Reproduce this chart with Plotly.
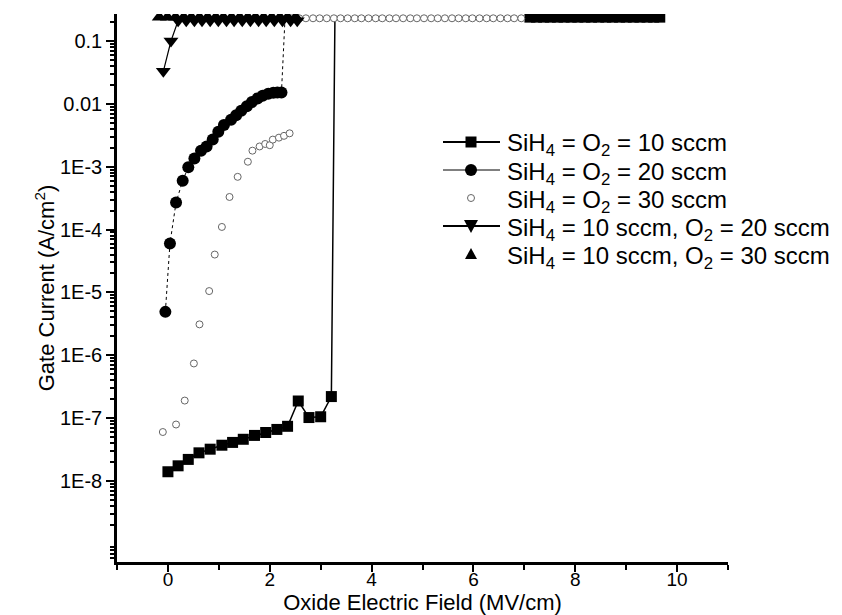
import plotly.graph_objects as go

# ---- data ----
sq_x = [0.0, 0.2, 0.4, 0.61, 0.83, 1.06, 1.27, 1.48, 1.70, 1.92, 2.14, 2.35, 2.56, 2.77, 3.0, 3.21, 3.28,
        7.11, 7.24, 7.38, 7.51, 7.65, 7.78, 7.92, 8.05, 8.19, 8.32, 8.46, 8.60, 8.73, 8.87, 9.00, 9.14, 9.27, 9.41, 9.54, 9.66]
sq_y = [1.4e-8, 1.74e-8, 2.2e-8, 2.8e-8, 3.2e-8, 3.7e-8, 4.1e-8, 4.6e-8, 5.3e-8, 5.9e-8, 6.6e-8, 7.4e-8, 1.87e-7, 1.02e-7, 1.05e-7, 2.2e-7, 0.23,
        0.24, 0.24, 0.24, 0.24, 0.24, 0.24, 0.24, 0.24, 0.24, 0.24, 0.24, 0.24, 0.24, 0.24, 0.24, 0.24, 0.24, 0.24, 0.24, 0.24]
sq_hidden = [16]

ci_x = [-0.05, 0.04, 0.16, 0.29, 0.40, 0.52, 0.65, 0.76, 0.88, 0.99, 1.10, 1.24, 1.34, 1.44, 1.55, 1.65, 1.76, 1.86, 1.97,
        2.07, 2.15, 2.23, 2.30]
ci_y = [4.9e-6, 6.0e-5, 2.7e-4, 6.0e-4, 9.8e-4, 1.35e-3, 1.8e-3, 2.1e-3, 2.7e-3, 3.6e-3, 4.6e-3, 5.6e-3, 6.6e-3, 7.8e-3,
        9.2e-3, 1.07e-2, 1.22e-2, 1.35e-2, 1.45e-2, 1.5e-2, 1.52e-2, 1.52e-2, 0.23]
ci_hidden = [22]

s30_x = [-0.10, 0.16, 0.33, 0.51, 0.62, 0.81, 0.92, 1.06, 1.21, 1.37, 1.57, 1.66, 1.80, 1.91, 2.0, 2.06, 2.18, 2.28, 2.39,
         2.44, 2.58, 2.71, 2.85, 2.98, 3.12, 3.26, 3.39, 3.53, 3.67, 3.80, 3.94, 4.08, 4.21, 4.35, 4.48, 4.62, 4.76,
         4.89, 5.03, 5.17, 5.30, 5.44, 5.58, 5.71, 5.85, 5.98, 6.12, 6.26, 6.39, 6.53, 6.67, 6.80, 6.94]
s30_y = [6e-8, 7.9e-8, 1.9e-7, 7.4e-7, 3.1e-6, 1.05e-5, 4e-5, 1.1e-4, 3.3e-4, 6.9e-4, 1.2e-3, 1.8e-3, 2.1e-3, 2.3e-3,
         2.2e-3, 2.7e-3, 2.9e-3, 3.1e-3, 3.4e-3,
         0.23, 0.23, 0.23, 0.23, 0.23, 0.23, 0.23, 0.23, 0.23, 0.23, 0.23, 0.23, 0.23, 0.23, 0.23, 0.23, 0.23, 0.23,
         0.23, 0.23, 0.23, 0.23, 0.23, 0.23, 0.23, 0.23, 0.23, 0.23, 0.23, 0.23, 0.23, 0.23, 0.23, 0.23]

dn_x = [-0.09, 0.06, 0.20, 0.36, 0.52, 0.67, 0.83, 0.99, 1.15, 1.30, 1.46, 1.62, 1.78, 1.93, 2.09, 2.25, 2.41, 2.54]
dn_y = [0.033, 0.1, 0.21, 0.21, 0.21, 0.21, 0.21, 0.21, 0.21, 0.21, 0.21, 0.21, 0.21, 0.21, 0.21, 0.21, 0.21, 0.21]

up_x = [-0.17, -0.01, 0.15, 0.31, 0.46, 0.62, 0.78, 0.94, 1.09, 1.25, 1.41, 1.57, 1.72, 1.88, 2.04, 2.20, 2.35, 2.51]
up_y = [0.24, 0.24, 0.24, 0.24, 0.24, 0.24, 0.24, 0.24, 0.24, 0.24, 0.24, 0.24, 0.24, 0.24, 0.24, 0.24, 0.24, 0.24]

names = ["SiH<sub>4</sub> = O<sub>2</sub> = 10 sccm",
         "SiH<sub>4</sub> = O<sub>2</sub> = 20 sccm",
         "SiH<sub>4</sub> = O<sub>2</sub> = 30 sccm",
         "SiH<sub>4</sub> = 10 sccm, O<sub>2</sub> = 20 sccm",
         "SiH<sub>4</sub> = 10 sccm, O<sub>2</sub> = 30 sccm"]

y_tickvals = [1e-8, 1e-7, 1e-6, 1e-5, 1e-4, 1e-3, 0.01, 0.1]
y_ticktext = ["1E-8", "1E-7", "1E-6", "1E-5", "1E-4", "1E-3", "0.01", "0.1"]
x_tickvals = [0, 2, 4, 6, 8, 10]

FONT = "Liberation Sans, Arial, sans-serif"

# ---- geometry ----
W, H = 842, 615
ML, MR, MT, MB = 117, 114, 14, 53


def px(x):
    return (x - ML) / (W - ML - MR)


def py(y):
    return 1 - (y - MT) / (H - MT - MB)


def sizes(n, base, hidden):
    return [0 if i in hidden else base for i in range(n)]


fig = go.Figure()
fig.add_trace(go.Scatter(x=sq_x, y=sq_y, mode="lines+markers", name=names[0],
                         line=dict(color="black", width=1.5),
                         marker=dict(symbol="square", color="black", opacity=1, line=dict(width=0),
                                     size=sizes(len(sq_x), 11, sq_hidden))))
fig.add_trace(go.Scatter(x=ci_x, y=ci_y, mode="lines+markers", name=names[1],
                         line=dict(color="black", width=1, dash="dot"),
                         marker=dict(symbol="circle", color="black", opacity=1, line=dict(width=0),
                                     size=sizes(len(ci_x), 12, ci_hidden))))
fig.add_trace(go.Scatter(x=s30_x, y=s30_y, mode="markers", name=names[2],
                         marker=dict(symbol="circle", color="white", size=7, opacity=1,
                                     line=dict(color="#666666", width=1))))
fig.add_trace(go.Scatter(x=dn_x, y=dn_y, mode="lines+markers", name=names[3],
                         line=dict(color="black", width=1.2),
                         marker=dict(symbol="triangle-down", color="black", size=13, line=dict(width=0))))
fig.add_trace(go.Scatter(x=up_x, y=up_y, mode="markers", name=names[4],
                         marker=dict(symbol="triangle-up", color="black", size=13, line=dict(width=0))))

# ---- legend drawn as shapes + text annotations ----
leg_rows = [142, 170, 198, 226, 254]
lx0, lx1, mx, tx = 443, 500, 471, 505
shapes = []
annotations = []
for i, ry in enumerate(leg_rows):
    if i in (0, 1, 3):
        shapes.append(dict(type="line", xref="paper", yref="paper", x0=px(lx0), x1=px(lx1), y0=py(ry), y1=py(ry),
                           line=dict(color="black", width=1 if i == 1 else 1.8)))
    if i == 0:
        shapes.append(dict(type="rect", xref="paper", yref="paper", x0=px(mx - 5.5), x1=px(mx + 5.5),
                           y0=py(ry + 5.5), y1=py(ry - 5.5), fillcolor="black", line=dict(width=0)))
    elif i == 1:
        shapes.append(dict(type="circle", xref="paper", yref="paper", x0=px(mx - 6), x1=px(mx + 6),
                           y0=py(ry + 6), y1=py(ry - 6), fillcolor="black", line=dict(width=0)))
    elif i == 2:
        shapes.append(dict(type="circle", xref="paper", yref="paper", x0=px(mx - 3.5), x1=px(mx + 3.5),
                           y0=py(ry + 3.5), y1=py(ry - 3.5), fillcolor="white",
                           line=dict(color="#666666", width=1)))
    elif i == 3:
        path = "M {:.5f},{:.5f} L {:.5f},{:.5f} L {:.5f},{:.5f} Z".format(
            px(mx - 7), py(ry - 6), px(mx + 7), py(ry - 6), px(mx), py(ry + 7))
        shapes.append(dict(type="path", xref="paper", yref="paper", path=path, fillcolor="black", line=dict(width=0)))
    elif i == 4:
        path = "M {:.5f},{:.5f} L {:.5f},{:.5f} L {:.5f},{:.5f} Z".format(
            px(mx - 6), py(ry + 5), px(mx + 6), py(ry + 5), px(mx), py(ry - 6))
        shapes.append(dict(type="path", xref="paper", yref="paper", path=path, fillcolor="black", line=dict(width=0)))
    annotations.append(dict(text=names[i], xref="paper", yref="paper", x=px(tx), y=py(ry + 3),
                            xanchor="left", yanchor="middle", showarrow=False,
                            font=dict(size=24, family=FONT, color="black")))

minor_y = [k * 10.0 ** e for e in range(-10, 0) for k in range(2, 10)]

fig.update_layout(
    width=W, height=H,
    margin=dict(l=ML, r=MR, t=MT, b=MB),
    paper_bgcolor="white", plot_bgcolor="white",
    font=dict(family=FONT, color="black", size=19),
    showlegend=False,
    shapes=shapes,
    annotations=annotations,
    xaxis=dict(range=[-1, 11], tickmode="array", tickvals=x_tickvals, automargin=False,
               showline=True, linecolor="black", linewidth=2.5,
               ticks="outside", ticklen=7, tickwidth=2, tickcolor="black", ticklabelstandoff=-9,
               showgrid=False, zeroline=False,
               minor=dict(dtick=1, ticks="outside", ticklen=5, tickwidth=2, tickcolor="black", showgrid=False),
               tickfont=dict(size=19, family=FONT),
               title=dict(text="Oxide Electric Field (MV/cm)", font=dict(size=22, family=FONT), standoff=2)),
    yaxis=dict(type="log", range=[-9.29, -0.57], tickmode="array", tickvals=y_tickvals, ticktext=y_ticktext,
               automargin=False,
               showline=True, linecolor="black", linewidth=2.5,
               ticks="outside", ticklen=8, tickwidth=2, tickcolor="black",
               showgrid=False, zeroline=False,
               minor=dict(tickmode="array", tickvals=minor_y, ticks="outside", ticklen=4, tickwidth=1.5,
                          tickcolor="black", showgrid=False),
               tickfont=dict(size=20, family=FONT),
               title=dict(text="Gate Current (A/cm<sup>2</sup>)", font=dict(size=22, family=FONT), standoff=0)),
)

fig.write_html("out.html")
